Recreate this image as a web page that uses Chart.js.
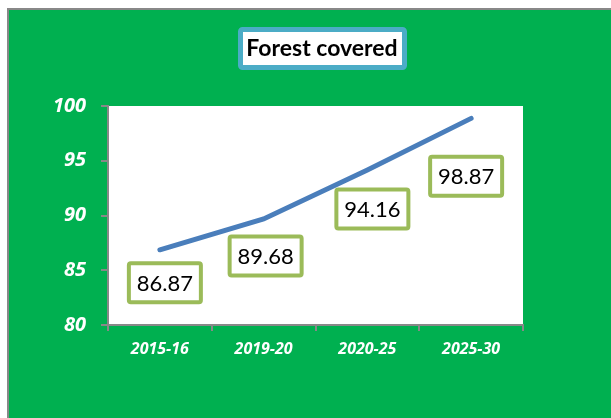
<!DOCTYPE html>
<html>
<head>
<meta charset="utf-8">
<script src="https://cdn.jsdelivr.net/npm/chart.js@4/dist/chart.umd.min.js"></script>
<style>
  html, body { margin: 0; padding: 0; background: #fff; }
  #wrap { width: 611px; height: 418px; }
</style>
</head>
<body>
<div id="wrap"><canvas id="chartForest" width="611" height="418"></canvas></div>
<script>
// данные графика
const periods = ['2015-16', '2019-20', '2020-25', '2025-30'];
const forestCovered = [86.87, 89.68, 94.16, 98.87];
const yTicks = [80, 85, 90, 95, 100];
const chartTitle = 'Forest covered';

// сдвиг подписей относительно точки (dx, dy)
const labelShift = [[5, 33], [2, 37], [5, 39], [-5, 58]];

const FONT = 'Lato, "Open Sans", sans-serif';
const AXIS_FONT = '"Open Sans", sans-serif';

// фон: зелёная рамка и заголовок в синей рамке
const backdrop = {
    id: 'backdrop',
    beforeDraw(chart) {
        const ctx = chart.ctx;
        ctx.save();
        ctx.fillStyle = '#ffffff';
        ctx.fillRect(0, 0, chart.width, chart.height);
        ctx.fillStyle = '#00B050';
        ctx.fillRect(8, 9, chart.width, chart.height);
        ctx.strokeStyle = '#888888';
        ctx.lineWidth = 2;
        ctx.beginPath();
        ctx.moveTo(8, chart.height);
        ctx.lineTo(8, 9);
        ctx.lineTo(chart.width, 9);
        ctx.stroke();

        // белая область построения
        const a = chart.chartArea;
        ctx.fillStyle = '#ffffff';
        ctx.fillRect(a.left, a.top, a.right - a.left, a.bottom - a.top);

        // заголовок
        ctx.fillStyle = '#ffffff';
        ctx.strokeStyle = '#4BACC6';
        ctx.lineWidth = 5;
        ctx.beginPath();
        ctx.roundRect(240.5, 29.5, 164, 38, 2);
        ctx.fill();
        ctx.stroke();
        ctx.fillStyle = '#000000';
        ctx.font = 'bold 23px ' + FONT;
        ctx.textAlign = 'center';
        ctx.textBaseline = 'middle';
        ctx.fillText(chartTitle, 322, 49);
        ctx.restore();
    }
};

// подписи значений в зелёных рамках
const valueBoxes = {
    id: 'valueBoxes',
    afterDatasetsDraw(chart) {
        const ctx = chart.ctx;
        const meta = chart.getDatasetMeta(0);
        ctx.save();
        ctx.font = '22px ' + FONT;
        ctx.textAlign = 'center';
        ctx.textBaseline = 'middle';
        meta.data.forEach((pt, i) => {
            const cx = pt.x + labelShift[i][0];
            const cy = pt.y + labelShift[i][1];
            const w = 72, h = 39;
            ctx.fillStyle = '#ffffff';
            ctx.strokeStyle = '#9BBB59';
            ctx.lineWidth = 4;
            ctx.beginPath();
            ctx.roundRect(cx - w / 2, cy - h / 2, w, h, 2);
            ctx.fill();
            ctx.stroke();
            ctx.fillStyle = '#000000';
            ctx.fillText(forestCovered[i].toFixed(2), cx, cy + 1);
        });
        ctx.restore();
    }
};

new Chart(
    document.querySelector('#chartForest'),
    {
        type: 'line',
        data: {
            labels: periods,
            datasets: [
                {
                    label: chartTitle,
                    data: forestCovered,
                    borderColor: '#4A7EBB',
                    borderWidth: 5,
                    borderCapStyle: 'round',
                    pointRadius: 0,
                    tension: 0
                }
            ]
        },
        options: {
            responsive: false,
            animation: false,
            layout: { padding: { top: 106, right: 88, left: 0, bottom: 0 } },
            plugins: {
                legend: { display: false },
                tooltip: { enabled: false }
            },
            scales: {
                x: {
                    offset: true,
                    afterFit: s => { s.height = 93; },
                    border: { color: '#888888', width: 2 },
                    grid: {
                        offset: true,
                        drawOnChartArea: false,
                        color: '#888888',
                        lineWidth: 2,
                        tickLength: 6
                    },
                    ticks: {
                        color: '#ffffff',
                        padding: 9,
                        font: { family: AXIS_FONT, size: 16, weight: 'bold', style: 'italic' }
                    }
                },
                y: {
                    min: 80,
                    max: 100,
                    afterFit: s => { s.width = 108; },
                    afterBuildTicks: s => { s.ticks = yTicks.map(v => ({ value: v })); },
                    border: { color: '#888888', width: 2 },
                    grid: {
                        drawOnChartArea: false,
                        color: '#888888',
                        lineWidth: 2,
                        tickLength: 7
                    },
                    ticks: {
                        color: '#ffffff',
                        padding: 15,
                        font: { family: AXIS_FONT, size: 20, weight: 'bold', style: 'italic' }
                    }
                }
            }
        },
        plugins: [backdrop, valueBoxes]
    }
);
</script>
</body>
</html>
